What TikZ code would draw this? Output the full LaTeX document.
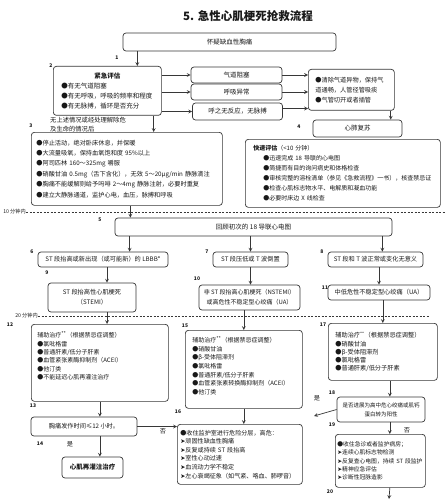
\documentclass[tikz,border=0pt]{standalone}
\usepackage{fontspec}
\setmainfont{Noto Sans CJK SC}
\newfontfamily\dingfont{DejaVu Sans}
\usepackage{tikz}
\usetikzlibrary{arrows, calc}
\definecolor{lineGray}{RGB}{55, 55, 55}
\definecolor{textGray}{RGB}{25, 25, 25}
\newcommand{\listarrow}{{\dingfont ➤}}

\begin{document}
\begin{tikzpicture}[
    x=1pt, y=-1pt,
    box/.style={rectangle, rounded corners=3pt, draw=lineGray, line width=0.7pt, fill=white, text=textGray, align=center, inner sep=2pt, font=\fontsize{6.5}{8}\selectfont},
    listbox/.style={box, align=left, anchor=north west, inner xsep=5pt},
    arrow/.style={->, >=stealth, line width=0.7pt, draw=lineGray},
    divider/.style={draw=lineGray, line width=0.7pt, dash pattern=on 2pt off 1.5pt},
    num/.style={font=\fontsize{5}{6}\selectfont\bfseries, text=textGray, inner sep=0pt},
    note/.style={font=\fontsize{6.2}{9.5}\selectfont, text=textGray, inner sep=0pt}
]
\fill[white] (0,0) rectangle (445,500);
\useasboundingbox (0,0) rectangle (445,500);

\node[font=\fontsize{11.5}{13}\selectfont\bfseries, text=textGray] (title) at (248,16) {5. 急性心肌梗死抢救流程};

% First contact
\node[box, minimum width=213pt, minimum height=18pt] (sus) at (229.5,42) {怀疑缺血性胸痛};
\node[listbox, text width=92pt, inner xsep=8pt, minimum height=49pt, font=\fontsize{6.5}{10}\selectfont] (assess) at (53,66)
    {\makebox[\linewidth]{\bfseries 紧急评估}\\●有无气道阻塞\\●有无呼吸，呼吸的频率和程度\\●有无脉搏，循环是否充分};
\node[box, minimum width=91pt, minimum height=16pt] (airway) at (236.5,75) {气道阻塞};
\node[box, minimum width=91pt, minimum height=16pt] (breath) at (236.5,92) {呼吸异常};
\node[box, minimum width=90pt, minimum height=17pt] (noresp) at (237.5,111.5) {呼之无反应，无脉搏};
\node[listbox, text width=72pt, inner xsep=7pt, minimum height=41pt, font=\fontsize{6.2}{10}\selectfont] (airbox) at (308,69)
    {●清除气道异物，保持气\\道通畅，人管径管吸痰\\●气管切开或者插管};
\node[box, minimum width=89pt, minimum height=17pt] (cpr) at (357.5,128.5) {心肺复苏};
\node[note, align=left, anchor=north west, font=\fontsize{6.3}{9}\selectfont] (clear) at (50,116.5) {无上述情况或经处理解除危\\及生命的情况后};

% Within 10 minutes
\node[listbox, text width=181pt, minimum height=73pt, font=\fontsize{6.2}{10.4}\selectfont] (first) at (31,132)
    {●停止活动，绝对卧床休息，并保暖\\
     ●大流量吸氧，保持血氧饱和度~95\%以上\\
     ●阿司匹林~160～325mg~嚼服\\
     ●硝酸甘油~0.5mg（舌下含化），无效~5～20μg/min~静脉滴注\\
     ●胸痛不能缓解则给予吗啡~2～4mg~静脉注射，必要时重复\\
     ●建立大静脉通道，监护心电，血压，脉搏和呼吸};
\node[listbox, text width=179pt, inner xsep=8pt, minimum height=68pt, font=\fontsize{6}{10}\selectfont] (quick) at (245,139)
    {{\bfseries 快速评估}（<10 分钟）\\
     \hspace*{10pt}●迅速完成 18 导联的心电图\\
     \hspace*{10pt}●简捷而有目的询问病史和体格检查\\
     \hspace*{10pt}●审核完整的溶栓清单（参见《急救流程》一书），核查禁忌证\\
     \hspace*{10pt}●检查心肌标志物水平、电解质和凝血功能\\
     \hspace*{10pt}●必要时床边 X 线检查};
\node[note, anchor=east, font=\fontsize{5.2}{6}\selectfont] (min10) at (26,212) {10 分钟内};
\draw[divider] (min10.east) -- +(419,0);

% ECG review
\node[box, minimum width=277pt, minimum height=18pt] (ecg) at (253.5,227) {回顾初次的 18 导联心电图};
\node[box, minimum width=130pt, minimum height=15pt, font=\fontsize{6.2}{8}\selectfont] (st6) at (103,259.5) {ST 段抬高或新出现（或可能新）的 LBBB*};
\node[box, minimum width=75pt, minimum height=15pt, font=\fontsize{6.2}{8}\selectfont] (st7) at (250.5,259.5) {ST 段压低或 T 波倒置};
\node[box, minimum width=95pt, minimum height=15pt, font=\fontsize{6.2}{8}\selectfont] (st8) at (375.5,259.5) {ST 段和 T 波正常或变化无意义};
\node[box, minimum width=88pt, minimum height=29pt, font=\fontsize{6.2}{10}\selectfont] (stemi) at (92,297.5) {ST 段抬高性心肌梗死\\（STEMI）};
\node[box, minimum width=101pt, minimum height=25pt, font=\fontsize{6}{10}\selectfont] (nstemi) at (249.5,297.5) {非 ST 段抬高心肌梗死（NSTEMI）\\或高危性不稳定型心绞痛（UA）};
\node[box, minimum width=102pt, minimum height=15pt, font=\fontsize{6.2}{8}\selectfont] (ua11) at (379,292.5) {中低危性不稳定型心绞痛（UA）};
\node[note, anchor=east, font=\fontsize{5.2}{6}\selectfont] (min20) at (38,316) {20 分钟内};
\draw[divider] (min20.east) -- +(392,0);

% Treatment
\node[listbox, text width=125pt, inner xsep=6pt, minimum height=77pt, text depth=57pt, font=\fontsize{6}{8.4}\selectfont] (adj12) at (31,324)
    {辅助治疗\textsuperscript{**}（根据禁忌症调整）\\●氯吡格雷\\●普通肝素/低分子肝素\\●血管紧张素酶抑制剂（ACEI）\\●他汀类\\●不能延迟心肌再灌注治疗};
\node[listbox, text width=103pt, inner xsep=7pt, minimum height=78pt, text depth=60pt, font=\fontsize{6}{8.67}\selectfont] (adj15) at (185,330)
    {辅助治疗\textsuperscript{**}（根据禁忌症调整）\\●硝酸甘油\\●β-受体阻滞剂\\●氯吡格雷\\●普通肝素/低分子肝素\\●血管紧张素转换酶抑制剂（ACEI）\\●他汀类};
\node[listbox, text width=95pt, inner xsep=7pt, minimum height=57pt, font=\fontsize{6.2}{8.25}\selectfont] (adj17) at (328,323)
    {辅助治疗\textsuperscript{**}（根据禁忌症调整）\\●硝酸甘油\\●β-受体阻滞剂\\●氯吡格雷\\●普通肝素/低分子肝素};
\node[box, minimum width=106pt, minimum height=19pt, font=\fontsize{6.2}{8}\selectfont] (t13) at (84,426.5) {胸痛发作时间≤12 小时。};
\node[box, minimum width=61pt, minimum height=21pt, font=\fontsize{6.5}{8}\selectfont\bfseries] (t14) at (92.5,467.5) {心肌再灌注治疗};
\node[listbox, text width=119pt, inner xsep=3pt, minimum height=60pt, font=\fontsize{6.1}{8.6}\selectfont] (t16) at (177,424)
    {●收住监护室进行危险分层，高危：\\\listarrow 顽固性缺血性胸痛\\\listarrow 反复或持续 ST 段抬高\\\listarrow 室性心动过速\\\listarrow 血流动力学不稳定\\\listarrow 左心衰竭征象（如气紧、咯血、肺啰音）};
\node[box, minimum width=88pt, minimum height=25pt, font=\fontsize{5.5}{9}\selectfont] (t18) at (381,409.5) {是否进展为高中危心绞痛或肌钙\\蛋白转为阳性};
\node[listbox, text width=86pt, inner xsep=2pt, minimum height=53pt, font=\fontsize{5.8}{8.3}\selectfont] (t19) at (335,434)
    {●收住急诊或者监护病房；\\\listarrow 连续心肌标志物检测\\\listarrow 反复查心电图，持续 ST 段监护\\\listarrow 精神应急评估\\\listarrow 诊断性冠脉造影};
\coordinate (yes18) at (314,416);
\coordinate (exit19) at (389,499);

% Step numbers
\node[num] (n1) at (117,58) {1};
\node[num] (n2) at (51,66) {2};
\node[num] (n3) at (31,126) {3};
\node[num] (n4) at (299,127) {4};
\node[num] (n5) at (100,220) {5};
\node[num] (n6) at (32,252) {6};
\node[num] (n7) at (207,252) {7};
\node[num] (n8) at (322,252) {8};
\node[num] (n9) at (47,273) {9};
\node[num] (n10) at (197,279) {10};
\node[num] (n11) at (325,288) {11};
\node[num] (n12) at (10,325) {12};
\node[num] (n13) at (33,406) {13};
\node[num] (n14) at (40,444) {14};
\node[num] (n15) at (185,326) {15};
\node[num] (n16) at (178,412) {16};
\node[num] (n17) at (323,325) {17};
\node[num] (n18) at (332,393) {18};
\node[num] (n19) at (332,425) {19};
\node[num] (n20) at (330,492) {20};
\node[note] (yes14) at (70,444) {是};
\node[note] (no16) at (163,431) {否};
\node[note] (yes18txt) at (317,398) {是};
\node[note] (no19) at (407,430) {否};

% Arrows
\draw[arrow] ([xshift=30pt]assess.north |- sus.south) -- ([xshift=30pt]assess.north);
\draw[arrow] (assess.east |- airway.west) -- (airway.west);
\draw[arrow] (assess.east |- breath.west) -- (breath.west);
\draw[arrow] (assess.east |- noresp.west) -- (noresp.west);
\draw[arrow] (airway.east) -- (airway.east -| airbox.west);
\draw[arrow] (breath.east) -- (breath.east -| airbox.west);
\draw[arrow] ([yshift=3pt]noresp.east) -- ([yshift=3pt]noresp.east -| airbox.west);
\draw[arrow] ([xshift=-4pt]airbox.south east) -- ([xshift=-4pt]airbox.south east |- cpr.north);
\draw[arrow] ([xshift=-8pt]assess.south east) -- ([xshift=-8pt]assess.south east |- first.north);
\draw[arrow] ([xshift=3.5pt]first.south) -- ([xshift=3.5pt]first.south |- ecg.north);
\draw[arrow] ([xshift=15pt]ecg.south west) -- ([xshift=15pt]ecg.south west |- st6.north);
\draw[arrow] (ecg.south -| st7.north) -- (st7.north);
\draw[arrow] ([xshift=-10pt]ecg.south east) -- ([xshift=-10pt]ecg.south east |- st8.north);
\draw[arrow] ([xshift=4pt]st6.south) -- ([xshift=4pt]st6.south |- stemi.north);
\draw[arrow] ([xshift=4pt]st6.south |- stemi.south) -- ([xshift=4pt]st6.south |- adj12.north);
\draw[arrow] (st7.south) -- (st7.south |- nstemi.north);
\draw[arrow] (ua11.north |- st8.south) -- (ua11.north);
\draw[arrow] (adj15.north |- nstemi.south) -- (adj15.north);
\draw[arrow] (adj17.north |- ua11.south) -- (adj17.north);
\draw[arrow] (adj12.south) -- (adj12.south |- t13.north);
\draw[arrow] (adj12.south |- t13.south) -- (adj12.south |- t14.north);
\draw[arrow] (t13.east) -- (t13.east -| t16.west);
\draw[arrow] (adj15.south) -- (adj15.south |- t16.north);
\draw[arrow] ([xshift=7pt]adj17.south) -- ([xshift=7pt]adj17.south |- t18.north);
\draw[arrow] ([xshift=7pt]adj17.south |- t18.south) -- ([xshift=7pt]adj17.south |- t19.north);
\draw[arrow] (t18.west) -- (yes18);
\draw[arrow] ([xshift=7pt]adj17.south |- t19.south) -- (exit19);

\end{tikzpicture}
\end{document}
